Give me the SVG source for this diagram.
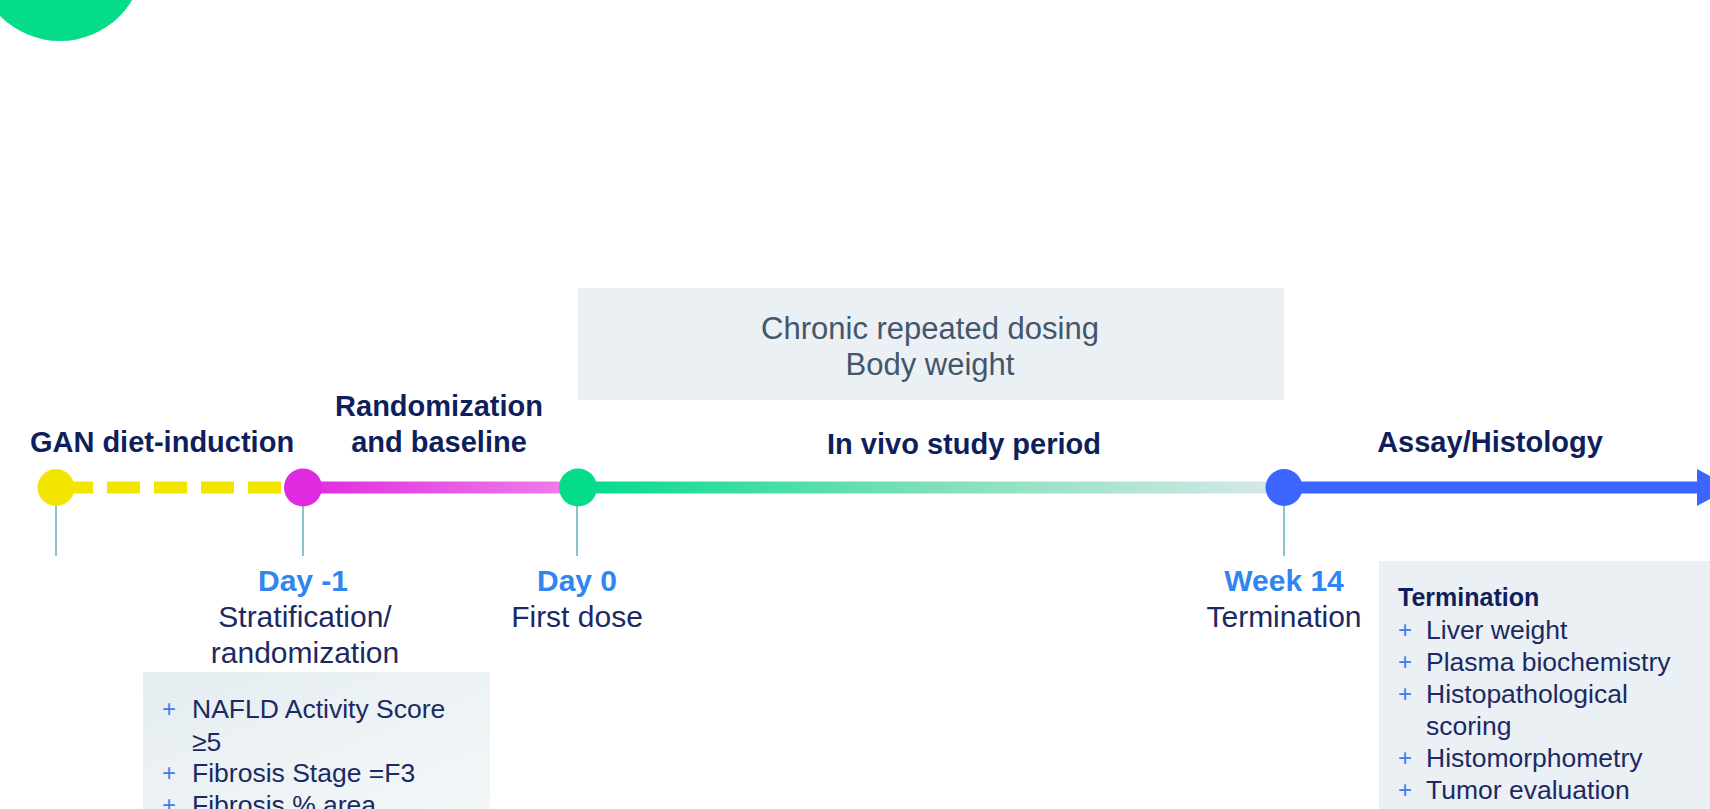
<svg xmlns="http://www.w3.org/2000/svg" width="1710" height="809" viewBox="0 0 1710 809">
<style>
.hdr{font-family:"Liberation Sans",Arial,sans-serif;font-weight:700;font-size:29px;fill:#0F1F5C;text-anchor:middle}
.day{font-family:"Liberation Sans",Arial,sans-serif;font-weight:700;font-size:30px;fill:#2F86F0;text-anchor:middle}
.reg{font-family:"Liberation Sans",Arial,sans-serif;font-size:30px;fill:#1B2A63;text-anchor:middle}
.box{font-family:"Liberation Sans",Arial,sans-serif;font-size:31px;fill:#44566B;text-anchor:middle}
.item{font-family:"Liberation Sans",Arial,sans-serif;font-size:26.5px;fill:#1B2A63}
.plus{font-family:"Liberation Sans",Arial,sans-serif;font-size:24px;fill:#3E7BF5;text-anchor:middle}
.bhdr{font-family:"Liberation Sans",Arial,sans-serif;font-weight:700;font-size:25px;fill:#0F1F5C}
.tick{stroke:#8CC4CC;stroke-width:2}
</style>
<defs>
<linearGradient id="gMag" gradientUnits="userSpaceOnUse" x1="303" y1="0" x2="578" y2="0">
<stop offset="0" stop-color="#E02ADF"/><stop offset="1" stop-color="#F081EA"/>
</linearGradient>
<linearGradient id="gGrn" gradientUnits="userSpaceOnUse" x1="578" y1="0" x2="1284" y2="0">
<stop offset="0" stop-color="#00DC8A"/><stop offset="0.5" stop-color="#7EE0B8"/><stop offset="1" stop-color="#D9E8EA"/>
</linearGradient>
<linearGradient id="gBox" x1="0" y1="0" x2="1" y2="1">
<stop offset="0" stop-color="#E5EDF1"/><stop offset="1" stop-color="#F4F7F8"/>
</linearGradient>
</defs>

<circle id="deco" cx="60" cy="-43" r="84" fill="#04DC8A"/>

<g id="dosing-box">
<rect x="578" y="288" width="706" height="112" fill="#EBF0F4"/>
<text class="box" x="930" y="339">Chronic repeated dosing</text>
<text class="box" x="930" y="375">Body weight</text>
</g>

<g id="phase-labels">
<text class="hdr" x="162" y="452">GAN diet-induction</text>
<text class="hdr" x="439" y="416">Randomization</text>
<text class="hdr" x="439" y="452">and baseline</text>
<text class="hdr" x="964" y="454">In vivo study period</text>
<text class="hdr" x="1490" y="452">Assay/Histology</text>
</g>

<g id="connectors">
<line class="tick" x1="56" y1="487" x2="56" y2="556"/>
<line class="tick" x1="303" y1="487" x2="303" y2="556"/>
<line class="tick" x1="577" y1="487" x2="577" y2="556"/>
<line class="tick" x1="1284" y1="487" x2="1284" y2="556"/>
<line x1="60" y1="487.5" x2="286" y2="487.5" stroke="#F2E500" stroke-width="12" stroke-dasharray="33 14"/>
<line x1="303" y1="487.5" x2="578" y2="487.5" stroke="url(#gMag)" stroke-width="12"/>
<line x1="578" y1="487.5" x2="1284" y2="487.5" stroke="url(#gGrn)" stroke-width="12"/>
<line x1="1284" y1="487.5" x2="1700" y2="487.5" stroke="#3A66FF" stroke-width="12"/>
<polygon points="1697,469 1731,487.5 1697,506" fill="#3A66FF"/>
</g>

<g id="node-gan">
<circle cx="56" cy="487.5" r="18.5" fill="#F2E500"/>
</g>
<g id="node-day-1">
<circle cx="303" cy="487.5" r="19" fill="#E02ADF"/>
<text class="day" x="303" y="591">Day -1</text>
<text class="reg" x="305" y="627">Stratification/</text>
<text class="reg" x="305" y="663">randomization</text>
</g>
<g id="node-day0">
<circle cx="578" cy="487.5" r="19" fill="#04DC8A"/>
<text class="day" x="577" y="591">Day 0</text>
<text class="reg" x="577" y="627">First dose</text>
</g>
<g id="node-week14">
<circle cx="1284" cy="487.5" r="18.5" fill="#3A66FF"/>
<text class="day" x="1284" y="591">Week 14</text>
<text class="reg" x="1284" y="627">Termination</text>
</g>

<g id="criteria-box">
<rect x="143" y="672" width="347" height="140" fill="url(#gBox)"/>
<text class="plus" x="169" y="717">+</text>
<text class="item" x="192" y="718">NAFLD Activity Score</text>
<text class="item" x="192" y="751">≥5</text>
<text class="plus" x="169" y="781">+</text>
<text class="item" x="192" y="782">Fibrosis Stage =F3</text>
<text class="plus" x="169" y="813">+</text>
<text class="item" x="192" y="814">Fibrosis % area</text>
</g>

<g id="termination-box">
<rect x="1379" y="561" width="335" height="252" fill="#EBF0F4"/>
<text class="bhdr" x="1398" y="606">Termination</text>
<text class="plus" x="1405" y="638">+</text>
<text class="item" x="1426" y="639">Liver weight</text>
<text class="plus" x="1405" y="670">+</text>
<text class="item" x="1426" y="671">Plasma biochemistry</text>
<text class="plus" x="1405" y="702">+</text>
<text class="item" x="1426" y="703">Histopathological</text>
<text class="item" x="1426" y="735">scoring</text>
<text class="plus" x="1405" y="766">+</text>
<text class="item" x="1426" y="767">Histomorphometry</text>
<text class="plus" x="1405" y="798">+</text>
<text class="item" x="1426" y="799">Tumor evaluation</text>
</g>
</svg>
